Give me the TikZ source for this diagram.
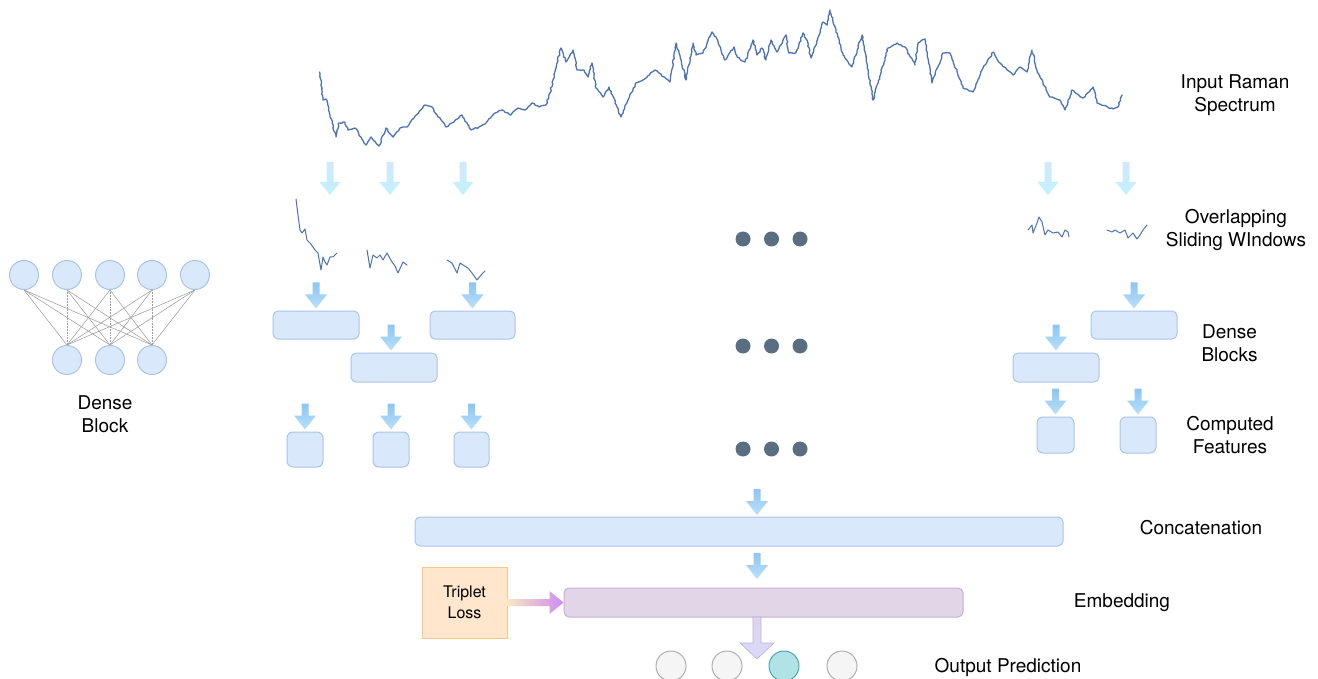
\documentclass[tikz,border=0pt]{standalone}
\usepackage{fontspec}
\setmainfont{TeX Gyre Heros}
\usetikzlibrary{decorations.pathmorphing,calc}

\definecolor{blkfill}{HTML}{DAE8FC}
\definecolor{blkline}{HTML}{A9C4EB}
\definecolor{specblue}{HTML}{4A72B4}
\definecolor{dotgray}{HTML}{5A6E82}
\definecolor{arrAtop}{HTML}{D2E9FB}
\definecolor{arrAbot}{HTML}{C2F2FB}
\definecolor{arrBtop}{HTML}{8CC5F3}
\definecolor{arrBbot}{HTML}{BAE0FA}
\definecolor{embfill}{HTML}{E1D5E7}
\definecolor{embline}{HTML}{C6AFD4}
\definecolor{lossfill}{HTML}{FFE6CC}
\definecolor{lossline}{HTML}{F3C98E}
\definecolor{lossarrow}{HTML}{FCE6C2}
\definecolor{lossviolet}{HTML}{CB8CF0}
\definecolor{outfill}{HTML}{F5F5F5}
\definecolor{outline}{HTML}{AFAFAF}
\definecolor{hitfill}{HTML}{B0E3E6}
\definecolor{hitline}{HTML}{4FA8A8}
\definecolor{downlav}{HTML}{D9DAFA}
\definecolor{downline}{HTML}{B4B0EC}

\tikzset{
  neuron/.style={circle, fill=blkfill, draw=blkline, line width=1pt, minimum size=29pt, inner sep=0pt},
  block/.style={rectangle, rounded corners=5pt, fill=blkfill, draw=blkline, line width=1pt, inner sep=0pt},
  dot/.style={circle, fill=dotgray, minimum size=15pt, inner sep=0pt},
  outnode/.style={circle, fill=outfill, draw=outline, line width=1pt, minimum size=30pt, inner sep=0pt},
  label/.style={align=center, font=\fontsize{19}{22.5}\selectfont},
  spec/.style={draw=specblue, line width=1.3pt, line join=round, line cap=round},
  link/.style={draw=gray!75, line width=0.55pt},
  vlink/.style={link, densely dotted},
  pics/arrowA/.style={code={
    \shade[top color=arrAtop, bottom color=arrAbot]
      (-3.5,0) -- (3.5,0) -- (3.5,20) -- (10.5,20) -- (0,33) -- (-10.5,20) -- (-3.5,20) -- cycle;}},
  pics/arrowB/.style={code={
    \shade[top color=arrBtop, bottom color=arrBbot]
      (-3.5,0) -- (3.5,0) -- (3.5,12) -- (11,12) -- (0,26) -- (-11,12) -- (-3.5,12) -- cycle;}},
}

\begin{document}
\begin{tikzpicture}[x=1pt, y=-1pt]
\useasboundingbox (0,0) rectangle (1318,679);

% ---------- dense block sketch ----------
\foreach \i/\x in {1/24,2/67,3/110,4/152,5/195}
  \node[neuron] (t\i) at (\x,275) {};
\foreach \j/\x in {1/67,2/110,3/152}
  \node[neuron] (b\j) at (\x,360) {};
\foreach \i in {1,...,5}
  \foreach \j in {1,2,3} {
    \pgfmathtruncatemacro{\k}{\j+1}
    \ifnum\i=\k
      \draw[vlink] (t\i.south) -- (b\j.north);
    \else
      \draw[link] (t\i.south) -- (b\j.north);
    \fi
  }
\node[label] (dblabel) at (105,414) {Dense\\Block};

% ---------- input spectrum ----------
\pgfmathsetseed{7}
\draw[spec, decorate, decoration={random steps, segment length=2.2pt, amplitude=0.7pt}]
  plot[sharp plot] coordinates {
  (319.6,72) (323,100) (326,99) (330,115) (336,137) (339,123) (345,122) (348,130)
  (355,128) (366,145) (371,137) (379,146) (386,128) (393,137) (400,128) (407,127)
  (414,118) (425,105) (432,107) (437,115) (446,127) (454,122) (462,115) (471,130)
  (479,127) (486,123) (495,113) (502,110) (511,115) (518,108) (525,110) (532,103)
  (539,107) (546,105) (550,93) (557,63) (561,48) (566,62) (573,50) (577,70)
  (584,70) (588,77) (592,63) (596,88) (603,97) (609,87) (621,117) (628,100)
  (636,83) (643,80) (655,70) (659,73) (670,82) (676,43) (679,53) (686,80)
  (693,43) (696,55) (703,53) (712,32) (716,37) (721,50) (725,60) (734,47)
  (737,57) (745,62) (753,40) (757,55) (762,48) (766,60) (771,40) (777,52)
  (786,35) (789,53) (796,53) (803,33) (807,40) (811,58) (816,45) (823,22)
  (827,25) (830,10) (836,30) (843,55) (852,67) (862,35) (873,100) (888,48)
  (897,43) (905,47) (915,65) (918,43) (925,39) (932,83) (943,53) (950,53)
  (963,88) (973,92) (982,70) (993,52) (1000,63) (1013,75) (1020,67) (1027,72)
  (1032,50) (1037,70) (1050,97) (1060,100) (1065,110) (1072,90) (1083,98) (1093,87)
  (1097,103) (1113,109) (1118,107) (1122,95)};
\node[label] (inlabel) at (1235,95) {Input Raman\\Spectrum};

% arrows into the windows
\foreach \x in {330,390,463,1048,1126}
  \pic at (\x,162) {arrowA};

% ---------- sliding windows ----------
\draw[spec, line width=1pt] plot[sharp plot] coordinates {
  (296,199) (298,215) (300,230) (302,233) (305,229) (307,240) (310,243) (313,247)
  (315,250) (318,253) (321,270) (323,257) (325,262) (327,265) (330,257) (333,257) (337,253)};
\draw[spec, line width=1pt] plot[sharp plot] coordinates {
  (367,250) (370,268) (373,255) (377,258) (380,255) (383,260) (387,253) (392,262)
  (395,266) (398,273) (403,262) (407,265)};
\draw[spec, line width=1pt] plot[sharp plot] coordinates {
  (447,260) (452,263) (457,273) (460,263) (463,265) (468,268) (472,273) (477,280)
  (482,274) (485,271)};
\draw[spec, line width=1pt] plot[sharp plot] coordinates {
  (1028,230) (1032,225) (1033,233) (1037,223) (1039,217) (1042,222) (1045,235)
  (1048,230) (1053,233) (1058,232) (1062,237) (1065,230) (1068,232) (1069,237)};
\draw[spec, line width=1pt] plot[sharp plot] coordinates {
  (1107,230) (1112,232) (1115,230) (1120,233) (1125,230) (1128,238) (1133,233)
  (1137,239) (1140,235) (1143,230) (1147,225)};
\node[label] (winlabel) at (1236,230) {Overlapping\\Sliding WIndows};

% ---------- ellipsis rows ----------
\foreach \r/\y in {1/239,2/346,3/449}
  \foreach \c/\x in {1/743,2/771.5,3/800}
    \node[dot] (dot\r\c) at (\x,\y) {};

% ---------- dense blocks ----------
\node[block, minimum width=86pt, minimum height=28pt] (db1) at (316,325) {};
\node[block, minimum width=85pt, minimum height=28pt] (db3) at (472.5,325) {};
\node[block, minimum width=86pt, minimum height=29pt] (db2) at (394,367.5) {};
\node[block, minimum width=86pt, minimum height=28pt] (dr1) at (1134,325) {};
\node[block, minimum width=86pt, minimum height=29pt] (dr2) at (1056,367.5) {};
\foreach \n in {db1,db3,dr1}
  \pic at ($(\n.north)+(0,-28)$) {arrowB};
\pic at ($(db2.north)+(-3,-28)$) {arrowB};
\pic at ($(dr2.north)+(0,-28)$) {arrowB};
\node[label] (dblabel2) at (1229.5,343) {Dense\\Blocks};

% ---------- computed features ----------
\node[block, rounded corners=6pt, minimum width=36pt, minimum height=35pt] (sq1) at (305,449.5) {};
\node[block, rounded corners=6pt, minimum width=36pt, minimum height=35pt] (sq2) at (391,449.5) {};
\node[block, rounded corners=6pt, minimum width=35pt, minimum height=35pt] (sq3) at (471.5,449.5) {};
\node[block, rounded corners=6pt, minimum width=37pt, minimum height=36pt] (sr1) at (1055.5,435) {};
\node[block, rounded corners=6pt, minimum width=36pt, minimum height=36pt] (sr2) at (1138,435) {};
\foreach \n in {sq1,sq2,sq3,sr1,sr2}
  \pic at ($(\n.north)+(0,-28)$) {arrowB};
\node[label] (cflabel) at (1230,435) {Computed\\Features};

% ---------- concatenation ----------
\node[block, minimum width=648pt, minimum height=29pt] (concat) at (739,531.5) {};
\coordinate (cin) at (757,489);
\pic at (cin) {arrowB};
\node[label] (catlabel) at (1201,528) {Concatenation};

% ---------- embedding ----------
\node[rectangle, rounded corners=5pt, fill=embfill, draw=embline, line width=1pt,
      minimum width=399pt, minimum height=29pt, inner sep=0pt] (embed) at (763.5,602.5) {};
\coordinate (ein) at (757,553);
\pic at (ein) {arrowB};
\node[label] (emblabel) at (1122,603) {Embedding};

% triplet loss
\node[rectangle, fill=lossfill, draw=lossline, line width=1pt, minimum width=85pt,
      minimum height=71pt, inner sep=0pt, align=center,
      font=\fontsize{16}{21}\selectfont] (trip) at (464.5,602.5) {Triplet\\Loss};
\shade[left color=lossarrow, right color=lossviolet]
  ($(trip.east)+(0,-3.5)$) -- ($(embed.west)+(-14,-3.5)$) -- ($(embed.west)+(-14,-11.5)$)
  -- (embed.west) -- ($(embed.west)+(-14,11.5)$) -- ($(embed.west)+(-14,3.5)$)
  -- ($(trip.east)+(0,3.5)$) -- cycle;

% ---------- output prediction ----------
\node[outnode] (o1) at (671,666) {};
\node[outnode] (o2) at (727,666) {};
\node[outnode, fill=hitfill, draw=hitline] (o3) at (784,666) {};
\node[outnode] (o4) at (842,666) {};
\coordinate (eout) at (757,617);
\shade[top color=embfill, bottom color=downlav, draw=downline, line width=0.6pt]
  ($(eout)+(-4,0)$) -- ($(eout)+(4,0)$) -- ($(eout)+(4,26)$) -- ($(eout)+(17,26)$)
  -- ($(eout)+(0,42)$) -- ($(eout)+(-17,26)$) -- ($(eout)+(-4,26)$) -- cycle;
\node[label] (outlabel) at (1008,667) {Output Prediction};

\end{tikzpicture}
\end{document}
